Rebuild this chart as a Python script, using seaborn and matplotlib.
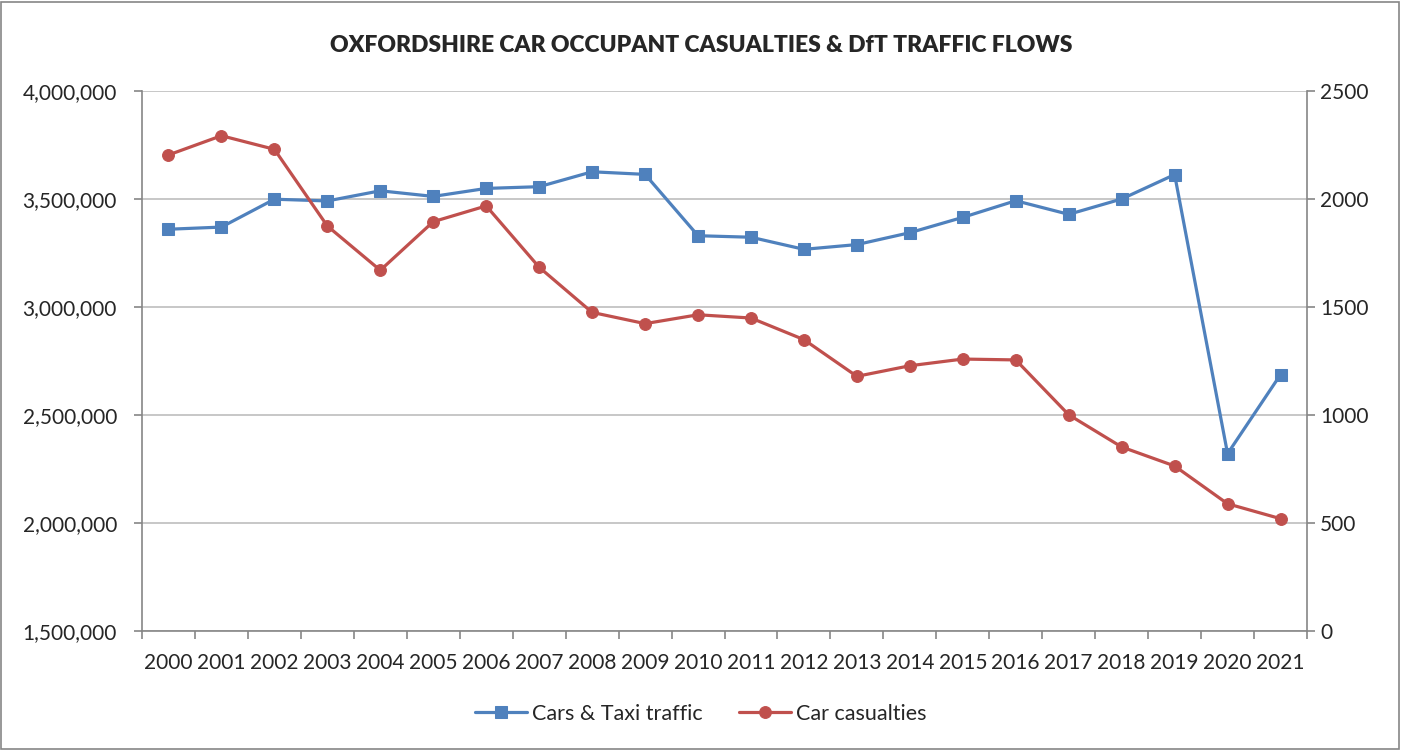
import seaborn as sns
import matplotlib.pyplot as plt
import matplotlib.ticker as mticker
from matplotlib.patches import Rectangle
import pandas as pd

# Данные
years = [str(y) for y in range(2000, 2022)]
traffic = [3360000, 3370000, 3499000, 3491000, 3538000, 3512000, 3549000, 3557000,
           3626000, 3614000, 3330000, 3323000, 3267000, 3289000, 3344000, 3415000,
           3492000, 3429000, 3500000, 3613000, 2321000, 2687000]
casualties = [2204, 2293, 2230, 1875, 1670, 1895, 1968, 1684, 1475, 1423, 1464,
              1449, 1349, 1179, 1228, 1259, 1255, 1001, 852, 764, 589, 520]

df = pd.DataFrame({'pos': range(len(years)), 'year': years,
                   'traffic': traffic, 'casualties': casualties})

sns.set_theme(style='white')
plt.rcParams['font.family'] = ['Lato', 'DejaVu Sans']

blue = '#4F81BD'
red = '#C0504D'
axis_grey = '#868686'

fig = plt.figure(figsize=(14.02, 7.51), dpi=100)
ax = fig.add_axes([142 / 1402, 1 - 631 / 751, (1307 - 142) / 1402, (631 - 91) / 751])
ax2 = ax.twinx()

sns.lineplot(data=df, x='pos', y='traffic', ax=ax, color=blue, marker='s',
             markersize=8.5, markeredgecolor=blue, linewidth=2.3,
             label='Cars & Taxi traffic', legend=False)
sns.lineplot(data=df, x='pos', y='casualties', ax=ax2, color=red, marker='o',
             markersize=8.5, markeredgecolor=red, linewidth=2.3,
             label='Car casualties', legend=False)

ax.set_xlim(-0.5, len(years) - 0.5)
ax.set_ylim(1500000, 4000000)
ax2.set_ylim(0, 2500)
ax.yaxis.set_major_locator(mticker.MultipleLocator(500000))
ax2.yaxis.set_major_locator(mticker.MultipleLocator(500))
ax.yaxis.set_major_formatter(mticker.FuncFormatter(lambda v, p: f'{v:,.0f}'))

ax.set_xticks(range(len(years)))
ax.set_xticklabels(years)
ax.xaxis.set_minor_locator(mticker.FixedLocator([i - 0.5 for i in range(len(years) + 1)]))
ax.tick_params(axis='x', which='major', length=0, labelsize=15, pad=16)
ax.tick_params(axis='x', which='minor', length=6, width=1.2, color=axis_grey, bottom=True)
ax.tick_params(axis='y', length=6, width=1.2, color=axis_grey, labelsize=15, left=True, pad=12)
ax2.tick_params(axis='y', length=6, width=1.2, color=axis_grey, labelsize=15, right=True, pad=3.5)

ax.grid(axis='y', color='#BEBEBE', linewidth=1.2)
ax.set_axisbelow(True)
ax.set_xlabel('')
ax.set_ylabel('')
ax2.set_ylabel('')

for a in (ax, ax2):
    a.spines['top'].set_visible(False)
    for s in ('left', 'right', 'bottom'):
        a.spines[s].set_color(axis_grey)
        a.spines[s].set_linewidth(1.2)
ax.spines['right'].set_visible(False)
ax2.spines['left'].set_visible(False)
ax2.spines['bottom'].set_visible(False)

fig.text(0.5, 1 - 45 / 751, 'OXFORDSHIRE CAR OCCUPANT CASUALTIES & DfT TRAFFIC FLOWS',
         ha='center', va='center', fontsize=16.5, fontweight='heavy')

h1, l1 = ax.get_legend_handles_labels()
h2, l2 = ax2.get_legend_handles_labels()
fig.legend(h1 + h2, l1 + l2, loc='center', bbox_to_anchor=(0.5, 1 - 714 / 751),
           ncol=2, frameon=False, fontsize=15.5, handlelength=2.4, columnspacing=1.7,
           handletextpad=0.25)

fig.patches.append(Rectangle((0.001, 0.002), 0.997, 0.996, transform=fig.transFigure,
                             fill=False, edgecolor=axis_grey, linewidth=1.2))

fig.savefig('out.png', dpi=100)
